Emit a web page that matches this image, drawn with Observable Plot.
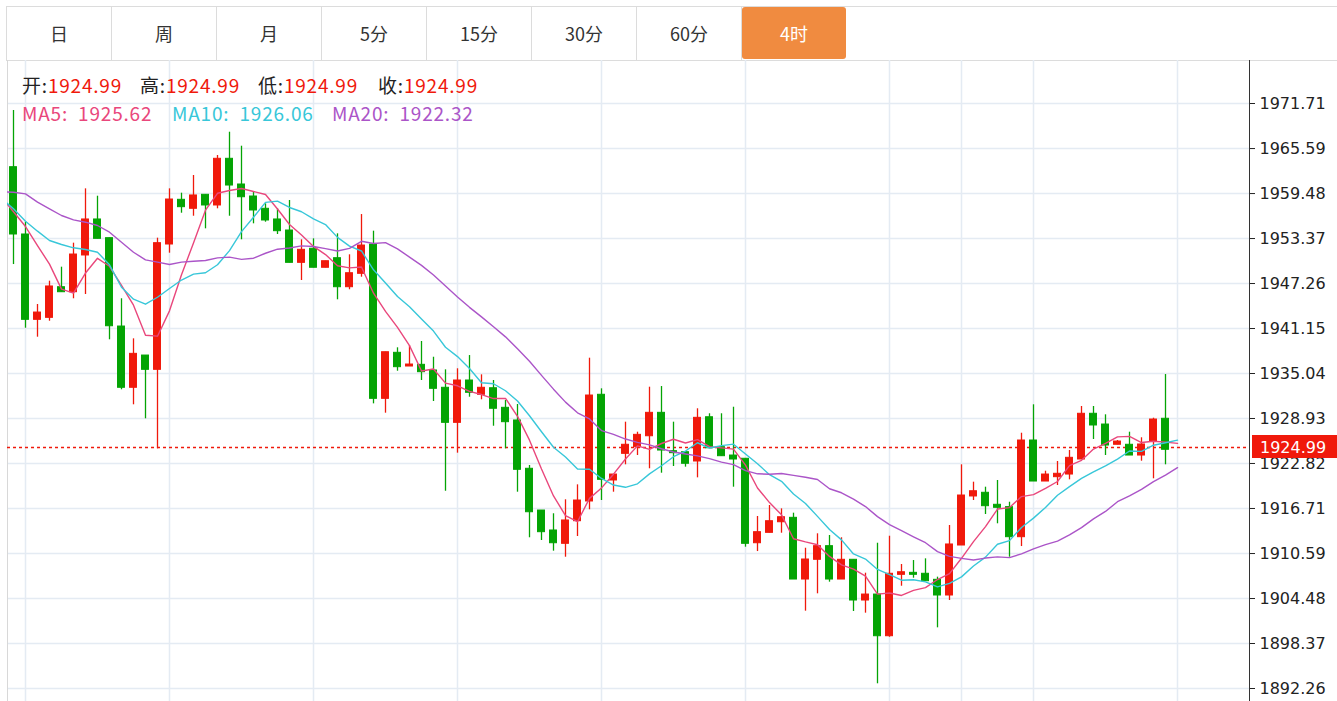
<!DOCTYPE html>
<html>
<head>
<meta charset="utf-8">
<script src="https://cdn.jsdelivr.net/npm/d3@7"></script>
<script src="https://cdn.jsdelivr.net/npm/@observablehq/plot@0.6"></script>
<style>
  html, body { margin: 0; padding: 0; background: #fff; }
  body { width: 1337px; height: 701px; overflow: hidden; position: relative;
         font-family: "Noto Sans CJK SC", "Noto Sans", sans-serif; }
  #bar { position: absolute; left: 6px; top: 6px; width: 1331px; height: 53px;
         border-top: 1px solid #dcdcdc; border-bottom: 1px solid #dcdcdc; border-left: 1px solid #dcdcdc; }
  .tab { position: absolute; top: 6px; height: 54px; width: 104px; border-right: 1px solid #dcdcdc;
         display: flex; align-items: center; justify-content: center; font-size: 18px; color: #333; box-sizing: border-box; }
  .tab.active { background: #f08b40; color: #fff; border-radius: 3px; top: 7px; height: 52px; border-right: none; }
  #chart { position: absolute; left: 0; top: 60px; }
  .info { position: absolute; font-size: 19px; letter-spacing: 0.8px; line-height: 19px; height: 19px; white-space: pre; }
  .lbl { color: #222; }
  .val { color: #f0190b; }
</style>
</head>
<body>
<div id="bar"></div>
<div id="tabs"></div>
<div id="chart"></div>
<div id="info"></div>
<script>
// ---------- data ----------
const tabNames = ["日", "周", "月", "5分", "15分", "30分", "60分", "4时"];
const activeTab = "4时";

const open = [1963.06,1953.92,1942.33,1942.60,1946.76,1946.08,1951.07,1955.96,1953.42,1941.42,
  1933.10,1937.48,1935.54,1952.56,1958.63,1957.41,1959.31,1957.86,1964.20,1960.71,
  1959.08,1957.41,1955.96,1954.46,1950.07,1951.98,1949.40,1950.70,1946.76,1948.58,
  1952.56,1931.60,1937.85,1935.99,1936.22,1935.45,1933.10,1928.34,1934.09,1932.15,
  1933.04,1930.38,1928.66,1922.10,1916.43,1913.72,1911.91,1914.98,1917.66,1932.15,
  1920.51,1924.13,1925.03,1926.52,1929.70,1924.49,1924.35,1923.09,1929.10,1925.03,
  1923.90,1923.46,1911.99,1913.40,1914.84,1915.44,1907.06,1909.74,1911.59,1907.06,
  1909.74,1904.21,1905.02,1899.36,1907.70,1907.97,1907.84,1907.02,1904.89,1911.68,
  1918.34,1918.84,1917.21,1916.89,1912.81,1925.94,1920.37,1920.96,1921.32,1923.36,
  1929.57,1928.11,1925.36,1925.36,1923.90,1925.80,1928.89,1924.99];
const high = [1970.76,1955.59,1944.41,1947.58,1949.48,1952.74,1960.12,1959.12,1953.42,1945.19,
  1939.75,1937.48,1953.42,1960.12,1959.53,1961.93,1959.31,1964.65,1967.81,1965.91,
  1959.66,1958.09,1957.41,1958.54,1953.20,1953.33,1950.29,1954.01,1951.16,1956.63,
  1954.37,1937.93,1938.53,1938.84,1939.39,1937.25,1935.54,1935.68,1937.48,1934.86,
  1934.09,1931.37,1930.83,1922.55,1916.43,1915.99,1917.89,1919.92,1937.12,1932.96,
  1921.32,1928.43,1927.07,1933.18,1933.27,1928.43,1924.35,1930.25,1929.57,1929.57,
  1930.46,1923.46,1915.62,1917.11,1916.66,1916.07,1911.31,1913.27,1913.04,1912.73,
  1909.74,1907.92,1911.99,1912.94,1909.10,1909.64,1909.87,1907.38,1914.40,1922.64,
  1920.28,1919.60,1920.51,1917.56,1926.93,1930.79,1921.77,1923.09,1924.58,1930.56,
  1930.56,1929.43,1925.94,1927.07,1926.31,1928.97,1934.90,1924.99];
const low = [1949.84,1941.19,1939.97,1942.14,1946.08,1945.19,1945.77,1953.33,1939.62,1932.83,
  1930.79,1928.89,1924.81,1951.38,1956.81,1956.40,1954.69,1957.41,1956.40,1953.20,
  1955.37,1955.59,1953.92,1950.07,1947.67,1949.40,1949.40,1945.05,1946.41,1948.12,
  1930.92,1929.65,1935.35,1935.99,1934.09,1931.24,1919.05,1924.22,1931.82,1931.47,
  1927.88,1924.81,1918.92,1912.73,1912.36,1910.91,1910.09,1912.90,1916.53,1917.79,
  1918.92,1922.64,1923.90,1922.10,1921.50,1922.41,1922.32,1920.87,1924.89,1923.81,
  1919.60,1911.45,1910.86,1913.40,1913.35,1907.06,1902.76,1905.12,1906.70,1907.06,
  1902.72,1902.49,1892.90,1899.22,1906.15,1907.24,1906.83,1900.50,1904.21,1911.68,
  1917.79,1915.89,1914.63,1910.09,1911.54,1920.37,1920.37,1919.83,1920.60,1923.36,
  1926.08,1923.90,1925.36,1923.90,1923.13,1920.74,1922.64,1924.99];
const close = [1953.92,1942.33,1943.32,1946.86,1946.08,1951.20,1955.96,1953.33,1941.46,1933.10,
  1937.71,1935.54,1952.74,1958.67,1957.63,1959.22,1957.86,1964.20,1960.57,1958.98,
  1957.18,1955.82,1954.37,1950.07,1951.84,1949.40,1950.29,1946.76,1948.66,1952.42,
  1931.60,1937.93,1935.90,1936.26,1935.22,1932.96,1928.34,1934.09,1932.42,1933.10,
  1930.25,1928.43,1921.96,1916.20,1913.49,1911.99,1915.08,1917.79,1932.05,1920.60,
  1921.32,1925.36,1926.71,1929.70,1924.58,1924.22,1922.78,1929.02,1924.89,1923.81,
  1923.36,1911.91,1913.49,1914.98,1915.52,1907.06,1909.78,1911.59,1907.06,1909.74,
  1904.21,1905.02,1899.36,1907.84,1908.05,1907.70,1906.83,1904.89,1911.82,1918.47,
  1919.05,1917.02,1916.80,1912.81,1925.94,1920.37,1921.32,1921.42,1923.59,1929.57,
  1927.98,1925.26,1925.80,1923.90,1925.40,1928.79,1924.68,1924.99];

// moving-average values before enough visible closes exist (starting one bar left of the first one)
const ma5Lead  = [1959.0, 1957.0, 1955.0, 1952.4, 1949.9];
const ma10Lead = [1958.8, 1957.41, 1955.73, 1954.37, 1953.10, 1952.56, 1952.11, 1951.88, 1951.51, 1949.8];
const ma20Lead = [1959.7, 1959.66, 1959.44, 1958.31, 1957.41, 1956.50, 1955.91, 1955.59, 1955.14, 1954.23,
  1952.87, 1951.51, 1950.48, 1950.16, 1949.84, 1950.16, 1950.29, 1950.39, 1950.75, 1950.84];

const yTicks = [1971.71,1965.59,1959.48,1953.37,1947.26,1941.15,1935.04,1928.93,1922.82,1916.71,1910.59,1904.48,1898.37,1892.26];
const dayBreaks = [1, 13, 25, 37, 49, 61, 73, 79, 85, 97];   // bar indices where vertical grid lines fall

const lastPrice = 1924.99;
const ohlcLabels = ["开", "高", "低", "收"];
const ohlcValues = [1924.99, 1924.99, 1924.99, 1924.99];
const maLabels = ["MA5", "MA10", "MA20"];
const maValues = [1925.62, 1926.06, 1922.32];

// ---------- styles ----------
const RED = "#f0190b", GREEN = "#04a404";
const MA_COLORS = ["#e9477c", "#38c7d9", "#ab55c8"];
const GRID = "#e4ebf3";

// ---------- tabs ----------
const tabs = document.getElementById("tabs");
tabNames.forEach((t, k) => {
  const d = document.createElement("div");
  d.className = "tab" + (t === activeTab ? " active" : "");
  d.style.left = (7 + k * 105) + "px";
  d.style.width = (t === activeTab ? 104 : 105) + "px";
  d.textContent = t;
  tabs.appendChild(d);
});

// ---------- info header ----------
const info = document.getElementById("info");
const ohlcX = [22, 140, 258, 378];
ohlcLabels.forEach((l, k) => {
  const d = document.createElement("div");
  d.className = "info";
  d.style.left = ohlcX[k] + "px"; d.style.top = "75px";
  d.innerHTML = `<span class="lbl">${l}:</span><span class="val">${ohlcValues[k].toFixed(2)}</span>`;
  info.appendChild(d);
});
const maX = [22, 172, 332];
maLabels.forEach((l, k) => {
  const d = document.createElement("div");
  d.className = "info";
  d.style.left = maX[k] + "px"; d.style.top = "103px";
  d.style.color = MA_COLORS[k];
  d.textContent = `${l}:  ${maValues[k].toFixed(2)}`;
  info.appendChild(d);
});

// ---------- chart ----------
const candles = close.map((c, i) => ({i, open: open[i], high: high[i], low: low[i], close: c}));
const candleColor = d => d.close >= d.open ? RED : GREEN;

function movingAverage(n, lead) {
  const pts = lead.map((v, k) => ({i: k - 1, v}));
  for (let i = n - 1; i < close.length; i++) pts.push({i, v: d3.mean(close.slice(i - n + 1, i + 1))});
  return pts;
}
const maSeries = [movingAverage(5, ma5Lead), movingAverage(10, ma10Lead), movingAverage(20, ma20Lead)];

const plot = Plot.plot({
  width: 1337,
  height: 641,
  marginLeft: 7,
  marginRight: 88,
  marginTop: 0,
  marginBottom: 0,
  style: {fontFamily: "DejaVu Sans, sans-serif", background: "transparent"},
  x: {type: "linear", domain: [-0.5, 103], axis: null},
  y: {domain: [1892.26, 1971.71], range: [628, 43], axis: null},
  marks: [
    Plot.gridY(yTicks, {stroke: GRID, strokeOpacity: 1, strokeWidth: 1.5}),
    Plot.gridX(dayBreaks, {stroke: GRID, strokeOpacity: 1, strokeWidth: 1.5}),
    Plot.ruleX([-0.5], {stroke: "#d8d8d8"}),
    Plot.ruleY([lastPrice], {stroke: RED, strokeDasharray: "3,3", strokeWidth: 1.3}),
    Plot.ruleX(candles, {x: "i", y1: "low", y2: "high", stroke: candleColor, strokeWidth: 1.3}),
    Plot.rect(candles, {x1: d => d.i - 0.29, x2: d => d.i + 0.29, y1: "open", y2: "close",
      fill: candleColor, stroke: candleColor, strokeWidth: 1}),
    ...maSeries.map((s, k) => Plot.line(s, {x: "i", y: "v", stroke: MA_COLORS[k], strokeWidth: 1.4, clip: true})),
    Plot.ruleX([103], {stroke: "#333", strokeWidth: 1}),
    Plot.axisY(yTicks, {anchor: "right", tickFormat: d => d.toFixed(2), tickSize: 5, tickPadding: 5,
      fontSize: 16, color: "#222"})
  ]
});
document.getElementById("chart").appendChild(plot);

// current-price label on the right axis, positioned through the plot's scales
const svg = d3.select(plot);
const xs = plot.scale("x"), ys = plot.scale("y");
const yy = ys.apply(lastPrice), x0 = xs.apply(103) + 3;
svg.append("rect").attr("x", x0).attr("y", yy - 12).attr("width", 1337 - x0).attr("height", 23).attr("fill", RED);
svg.append("text").attr("x", x0 + 8).attr("y", yy).attr("dy", "0.36em")
  .attr("text-anchor", "start")
  .attr("fill", "#fff").attr("font-size", 16).attr("font-family", "DejaVu Sans, sans-serif")
  .text(lastPrice.toFixed(2));
</script>
</body>
</html>
